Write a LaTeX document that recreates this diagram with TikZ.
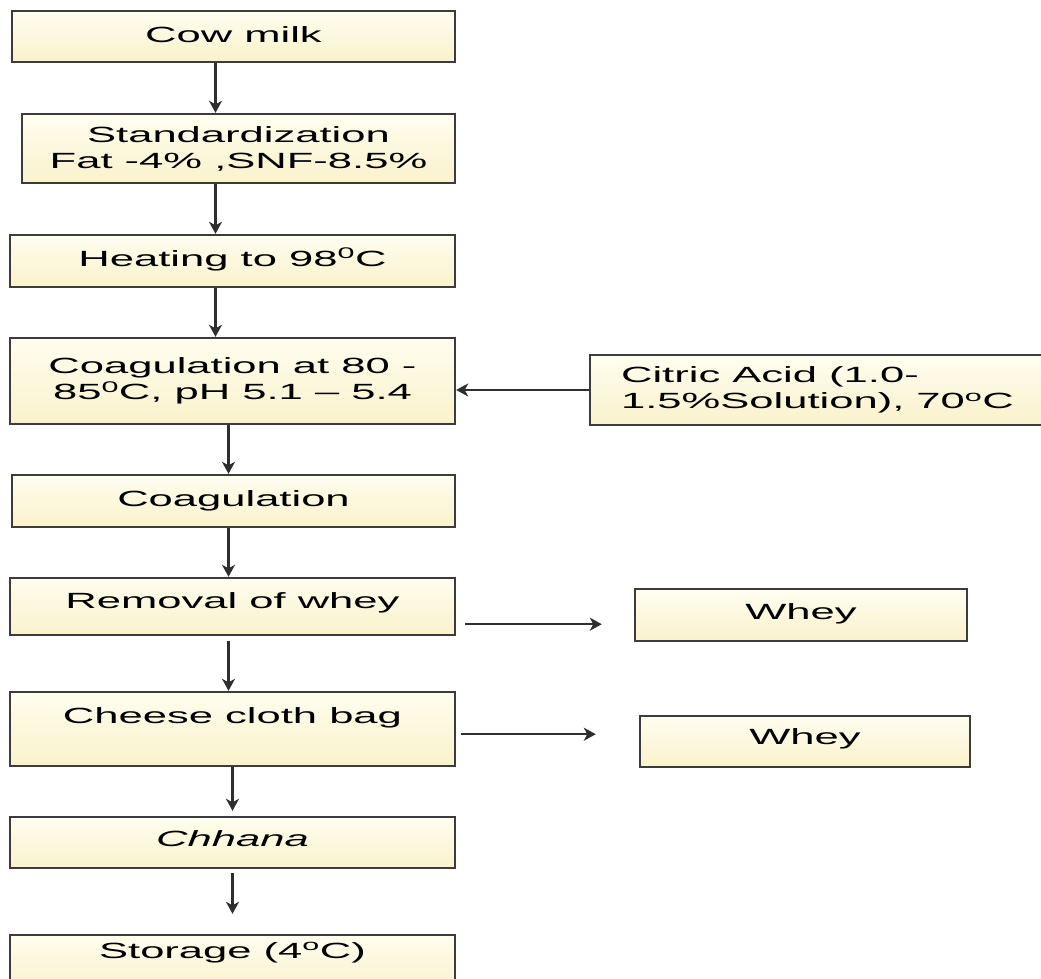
\documentclass[tikz,border=0pt]{standalone}
\usepackage{fontspec}
\setmainfont{Liberation Sans}[FakeStretch=1.98]
\usetikzlibrary{arrows.meta,calc}
\definecolor{boxline}{HTML}{3C3C3C}
\definecolor{arrowgrey}{HTML}{2E2E2E}
\definecolor{creamtop}{HTML}{FFFDEF}
\definecolor{creambot}{HTML}{F9F2CC}

\begin{document}
\begin{tikzpicture}[
  x=1pt, y=-1pt,
  box/.style={draw=boxline, line width=2.4pt, top color=creamtop, bottom color=creambot, align=center, inner sep=0pt, font=\fontsize{22}{26}\selectfont},
  oneline/.style={text height=16pt, text depth=#1},
  arr/.style={-{Stealth[length=12pt,width=13pt,inset=3.5pt]}, arrowgrey, line width=2.2pt}
]
\path[use as bounding box, clip] (0,0) rectangle (1041,979);

% main column
\node[box, oneline=4pt, minimum width=443pt, minimum height=51pt] (cow) at (233.5,36.5) {Cow milk};
\node[box, minimum width=433pt, minimum height=69pt] (stand) at (238.5,148.5) {Standardization\\Fat -4\% ,SNF-8.5\%};
\node[box, oneline=5pt, minimum width=445pt, minimum height=52pt] (heat) at (232.5,261) {Heating to 98\textsuperscript{0}C};
\node[box, minimum width=445pt, minimum height=86pt] (coag) at (232.5,381) {Coagulation at 80 -\\85\textsuperscript{0}C, pH 5.1 -- 5.4};
\node[box, oneline=5pt, minimum width=443pt, minimum height=52pt] (curd) at (233.5,501) {Coagulation};
\node[box, oneline=13pt, minimum width=445pt, minimum height=57pt] (removal) at (232.5,606.5) {Removal of whey};
\node[box, oneline=28pt, minimum width=445pt, minimum height=74pt] (cloth) at (232.5,729) {Cheese cloth bag};
\node[box, oneline=9pt, minimum width=445pt, minimum height=51pt] (chhana) at (232.5,842.5) {\itshape Chhana};
\node[box, oneline=23pt, minimum width=445pt, minimum height=54pt] (store) at (232.5,962) {Storage (4\textsuperscript{o}C)};

% side boxes
\node[box, align=left, minimum width=455pt, minimum height=70pt] (citric) at (817.5,390) {Citric Acid (1.0-\\1.5\%Solution), 70\textsuperscript{o}C};
\node[box, oneline=8pt, minimum width=332pt, minimum height=52pt] (wheyA) at (801,615) {Whey};
\node[box, oneline=10pt, minimum width=330pt, minimum height=51pt] (wheyB) at (805,741.5) {Whey};

% flow
\draw[arr] ([xshift=-18pt]cow.south) -- ([xshift=-18pt]cow.south |- stand.north);
\draw[arr] ([xshift=-23pt]stand.south) -- ([xshift=-23pt]stand.south |- heat.north);
\draw[arr] ([xshift=-17pt]heat.south) -- ([xshift=-17pt]heat.south |- coag.north);
\draw[arr] ([xshift=-4pt]coag.south) -- ([xshift=-4pt]coag.south |- curd.north);
\draw[arr] ([xshift=-5pt]curd.south) -- ([xshift=-5pt]curd.south |- removal.north);
\draw[arr, shorten <=5pt] ([xshift=-4pt]removal.south) -- ([xshift=-4pt]removal.south |- cloth.north);
\draw[arr, shorten >=5pt] (cloth.south) -- (cloth.south |- chhana.north);
\draw[arr, shorten <=4pt, shorten >=20pt] (chhana.south) -- (chhana.south |- store.north);

\draw[arr] (citric.west) -- (citric.west -| coag.east);
\draw[arr, shorten >=32pt] ([shift={(9pt,12pt)}]removal.south east) -- ([yshift=12pt]removal.south east -| wheyA.west);
\draw[arr, shorten >=43pt] ([shift={(5pt,33pt)}]cloth.south east) -- ([yshift=33pt]cloth.south east -| wheyB.west);
\end{tikzpicture}
\end{document}
